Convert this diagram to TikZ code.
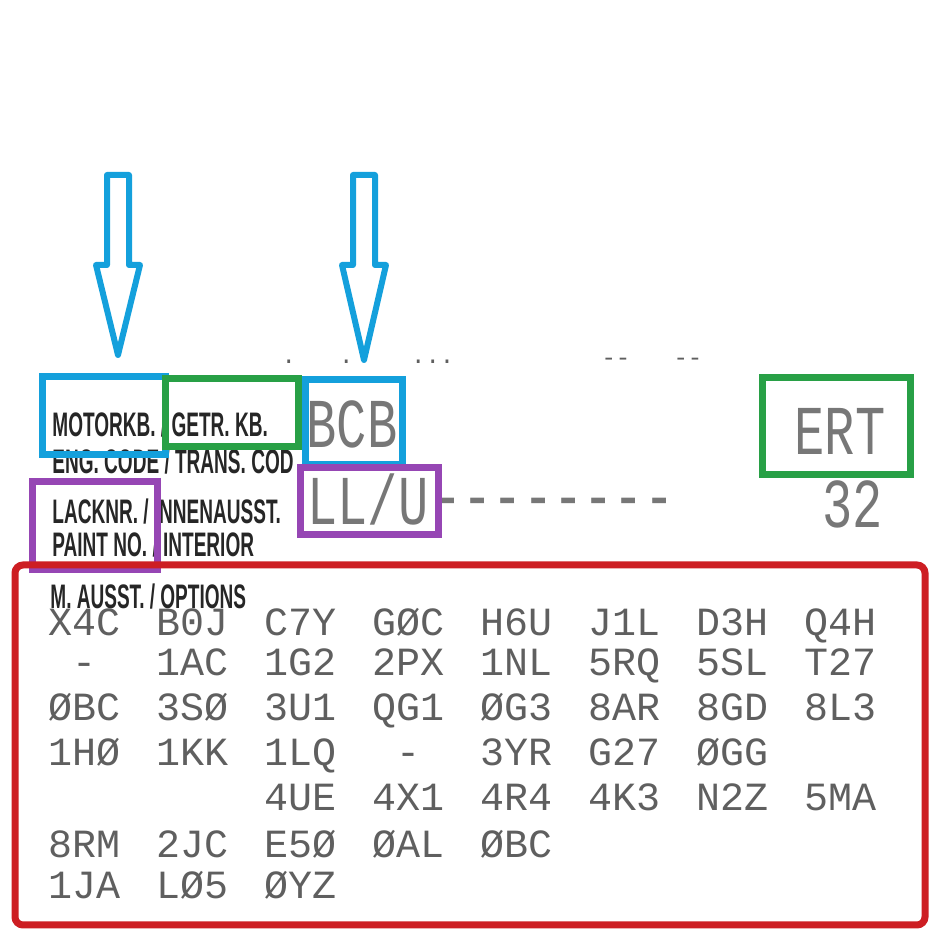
\documentclass[tikz,border=0pt]{standalone}
\usepackage{fontspec}
\setmainfont{Liberation Sans}
\setmonofont{Liberation Mono}
\usepackage{graphicx}
\definecolor{markblue}{RGB}{20,160,220}
\definecolor{markgreen}{RGB}{40,160,70}
\definecolor{markpurple}{RGB}{150,70,180}
\definecolor{markred}{RGB}{205,30,35}
\definecolor{ink}{RGB}{95,95,95}
\begin{document}
\begin{tikzpicture}[x=0.5pt,y=-0.5pt,
    every node/.style={inner sep=0pt},
    caption/.style={font=\bfseries\fontsize{17}{17}\selectfont, text=black!85, anchor=west},
    code/.style={font=\ttfamily\fontsize{20}{20}\selectfont, text=ink, text height=11pt, text depth=0pt},
    big/.style={font=\ttfamily\fontsize{35}{35}\selectfont, text=ink!85, text height=20pt, text depth=0pt},
    markbox/.style={line width=3.5pt}]
\useasboundingbox (0,0) rectangle (950,936);
\fill[white] (0,0) rectangle (950,936);

% printed labels
\node [caption] (eng) at (52,425) {\scalebox{0.56}[1]{MOTORKB. / GETR. KB.}};
\node [caption] (engen) at (52,462) {\scalebox{0.56}[1]{ENG. CODE / TRANS. COD}};
\node [caption] (paint) at (52,512) {\scalebox{0.56}[1]{LACKNR. / INNENAUSST.}};
\node [caption] (painten) at (52,545) {\scalebox{0.56}[1]{PAINT NO. / INTERIOR}};
\node [caption] (opt) at (50,597) {\scalebox{0.56}[1]{M. AUSST. / OPTIONS}};

% printed values
\node [big] (bcb) at (352,428) {\scalebox{0.72}[1]{BCB}};
\node [big] (llu) at (368,505) {\scalebox{0.72}[1]{LL/U}};
\node [big, anchor=west] (dash) at (432,500) {\scalebox{0.72}[1]{--------}};
\node [big] (ert) at (840,435) {\scalebox{0.72}[1]{ERT}};
\node [big] (num) at (853,508) {\scalebox{0.72}[1]{32}};
\node [font=\ttfamily\fontsize{12}{12}\selectfont, text=ink] (dots1) at (368,362) {.\ \ \ .\ \ \ \ ...};
\node [font=\ttfamily\fontsize{12}{12}\selectfont, text=ink] (dots2) at (652,362) {--\ \ \ --};

% option codes
\foreach \row/\y in {{X4C,B0J,C7Y,GØC,H6U,J1L,D3H,Q4H}/625,
                     {-,1AC,1G2,2PX,1NL,5RQ,5SL,T27}/665,
                     {ØBC,3SØ,3U1,QG1,ØG3,8AR,8GD,8L3}/710,
                     {1HØ,1KK,1LQ,-,3YR,G27,ØGG,{}}/755,
                     {{},{},4UE,4X1,4R4,4K3,N2Z,5MA}/800,
                     {8RM,2JC,E5Ø,ØAL,ØBC,{},{},{}}/847,
                     {1JA,LØ5,ØYZ,{},{},{},{},{}}/888}
  \foreach \c [count=\i] in \row
    \node [code] (c-\i-\y) at ({-23+108*\i},\y) {\c};

% highlight boxes
\draw [markbox, markblue] (42,377) rectangle (165,455);
\draw [markbox, markgreen] (165,379) rectangle (298,447);
\draw [markbox, markblue] (305,380) rectangle (402,465);
\draw [markbox, markgreen] (762,378) rectangle (910,475);
\draw [markbox, markpurple] (32,482) rectangle (157,570);
\draw [markbox, markpurple] (300,468) rectangle (438,535);
\draw [markbox, markred, rounded corners=4pt] (15,565) rectangle (925,925);

% hollow arrows
\foreach \ax/\tip in {118/355, 364/360}
  \draw [line width=3pt, markblue, line join=round]
    (\ax-11,175) -- (\ax+11,175) -- (\ax+11,265) -- (\ax+22,265) -- (\ax,\tip)
    -- (\ax-22,265) -- (\ax-11,265) -- cycle;
\end{tikzpicture}
\end{document}
